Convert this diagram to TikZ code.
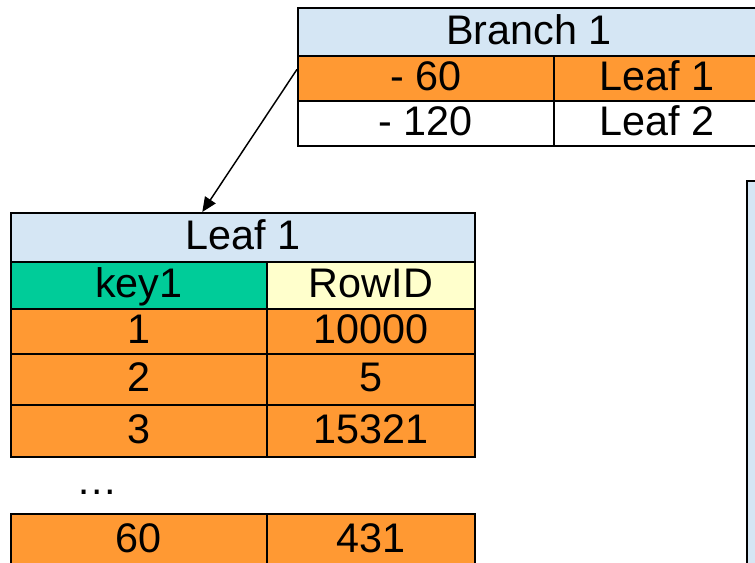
\documentclass[tikz,border=0pt]{standalone}
\usepackage{fontspec}
\setmainfont{Liberation Sans}
\usepackage{tikz}
\usetikzlibrary{positioning,arrows.meta}
\tikzset{every picture/.style={line width=0.75pt}}
\definecolor{hdrblue}{RGB}{213,230,244}
\definecolor{cellorange}{RGB}{255,153,51}
\definecolor{keygreen}{RGB}{0,204,153}
\definecolor{ridyellow}{RGB}{255,255,204}

\begin{document}
\begin{tikzpicture}[x=0.75pt,y=0.75pt,yscale=-1,xscale=1,
  cell/.style={draw=black, line width=1.3pt, anchor=north west, inner sep=0pt,
    font=\fontsize{31}{37}\selectfont, text height=20pt, text depth=1.5pt}]

\clip (0,0) rectangle (755,562);

%Table: Branch 1
\node [cell, fill=hdrblue, minimum width=346.5pt, minimum height=36pt] (bhead) at (297,7) {Branch 1};
\node [cell, fill=cellorange, minimum width=192pt, minimum height=33.75pt] (b60) at (297,55) {- 60};
\node [cell, fill=cellorange, minimum width=154.5pt, minimum height=33.75pt] (bleaf1) at (553,55) {Leaf 1};
\node [cell, fill=white, minimum width=192pt, minimum height=33.75pt] (b120) at (297,100) {- 120};
\node [cell, fill=white, minimum width=154.5pt, minimum height=33.75pt] (bleaf2) at (553,100) {Leaf 2};

%Table: Leaf 1
\node [cell, fill=hdrblue, minimum width=348pt, minimum height=36.75pt] (lhead) at (10,212) {Leaf 1};
\node [cell, fill=keygreen, minimum width=192pt, minimum height=35.25pt] (lkey) at (10,261) {key1};
\node [cell, fill=ridyellow, minimum width=156pt, minimum height=35.25pt] (lrid) at (266,261) {RowID};
\node [cell, fill=cellorange, minimum width=192pt, minimum height=33.75pt] (k1) at (10,308) {1};
\node [cell, fill=cellorange, minimum width=156pt, minimum height=33.75pt] (r1) at (266,308) {10000};
\node [cell, fill=cellorange, minimum width=192pt, minimum height=38.25pt] (k2) at (10,353) {2};
\node [cell, fill=cellorange, minimum width=156pt, minimum height=38.25pt] (r2) at (266,353) {5};
\node [cell, fill=cellorange, minimum width=192pt, minimum height=39pt] (k3) at (10,404) {3};
\node [cell, fill=cellorange, minimum width=156pt, minimum height=39pt] (r3) at (266,404) {15321};

% Text Node
\node [anchor=base, inner sep=0pt, font=\fontsize{31}{37}\selectfont] (dots) at (97,494) {…};

\node [cell, fill=cellorange, minimum width=192pt, minimum height=39pt] (k60) at (10,513) {60};
\node [cell, fill=cellorange, minimum width=156pt, minimum height=39pt] (r60) at (266,513) {431};

%Shape: Rectangle (right edge)
\node [cell, fill=hdrblue, minimum width=60pt, minimum height=320pt] (rbox) at (746,180) {};

%Straight Lines
\draw [line width=1.1pt, -{Triangle[length=11pt, width=9.5pt]}] (b60.176) -- (lhead.148);

\end{tikzpicture}
\end{document}
